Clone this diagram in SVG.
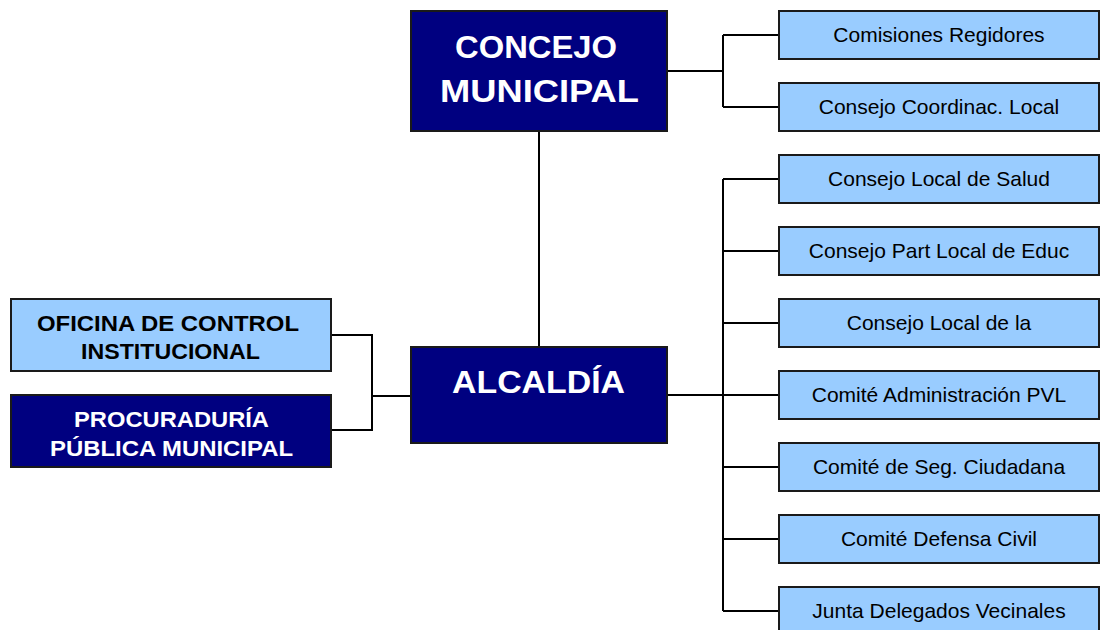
<svg xmlns="http://www.w3.org/2000/svg" width="1101" height="630" viewBox="0 0 1101 630">
<style>
.dark{fill:#000080;stroke:#1a1a1a;stroke-width:2}
.light{fill:#99CCFF;stroke:#1a1a1a;stroke-width:2}
.big{font-family:"Liberation Sans",Arial,sans-serif;font-weight:bold;font-size:31px;fill:#fff;text-anchor:middle}
.mid{font-family:"Liberation Sans",Arial,sans-serif;font-weight:bold;font-size:22px;text-anchor:middle}
.sm{font-family:"Liberation Sans",Arial,sans-serif;font-size:21px;fill:#000;text-anchor:middle}
.conn{fill:none;stroke:#000;stroke-width:2}
</style>
<rect width="1101" height="630" fill="#fff"/>
<g id="connectors" class="conn">
<path d="M539 131V347"/>
<path d="M667 71H723M723 35V107M723 35H779M723 107H779"/>
<path d="M667 395H723M723 179V611"/>
<path d="M723 179H779M723 251H779M723 323H779M723 395H779M723 467H779M723 539H779M723 611H779"/>
<path d="M331 335H372V430H331M372 396H411"/>
</g>
<g id="concejo"><rect class="dark" x="411" y="11" width="256" height="120"/>
<text class="big" x="536" y="58" textLength="162" lengthAdjust="spacingAndGlyphs">CONCEJO</text>
<text class="big" x="539.5" y="102" textLength="199" lengthAdjust="spacingAndGlyphs">MUNICIPAL</text></g>
<g id="alcaldia"><rect class="dark" x="411" y="347" width="256" height="96"/>
<text class="big" x="538.5" y="393" textLength="173" lengthAdjust="spacingAndGlyphs">ALCALDÍA</text></g>
<g id="oficina"><rect class="light" x="11" y="299" width="320" height="72"/>
<text class="mid" x="168" y="331" fill="#000" textLength="262" lengthAdjust="spacingAndGlyphs">OFICINA DE CONTROL</text>
<text class="mid" x="170.5" y="359" fill="#000" textLength="179" lengthAdjust="spacingAndGlyphs">INSTITUCIONAL</text></g>
<g id="procuraduria"><rect class="dark" x="11" y="395" width="320" height="72"/>
<text class="mid" x="171.5" y="427" fill="#fff" textLength="195" lengthAdjust="spacingAndGlyphs">PROCURADURÍA</text>
<text class="mid" x="171.5" y="456" fill="#fff" textLength="243" lengthAdjust="spacingAndGlyphs">PÚBLICA MUNICIPAL</text></g>
<g id="n1"><rect class="light" x="779" y="11" width="320" height="48"/><text class="sm" x="939" y="42">Comisiones Regidores</text></g>
<g id="n2"><rect class="light" x="779" y="83" width="320" height="48"/><text class="sm" x="939" y="114">Consejo Coordinac. Local</text></g>
<g id="n3"><rect class="light" x="779" y="155" width="320" height="48"/><text class="sm" x="939" y="186">Consejo Local de Salud</text></g>
<g id="n4"><rect class="light" x="779" y="227" width="320" height="48"/><text class="sm" x="939" y="258">Consejo Part Local de Educ</text></g>
<g id="n5"><rect class="light" x="779" y="299" width="320" height="48"/><text class="sm" x="939" y="330">Consejo Local de la</text></g>
<g id="n6"><rect class="light" x="779" y="371" width="320" height="48"/><text class="sm" x="939" y="402">Comité Administración PVL</text></g>
<g id="n7"><rect class="light" x="779" y="443" width="320" height="48"/><text class="sm" x="939" y="474">Comité de Seg. Ciudadana</text></g>
<g id="n8"><rect class="light" x="779" y="515" width="320" height="48"/><text class="sm" x="939" y="546">Comité Defensa Civil</text></g>
<g id="n9"><rect class="light" x="779" y="587" width="320" height="48"/><text class="sm" x="939" y="618">Junta Delegados Vecinales</text></g>
</svg>
